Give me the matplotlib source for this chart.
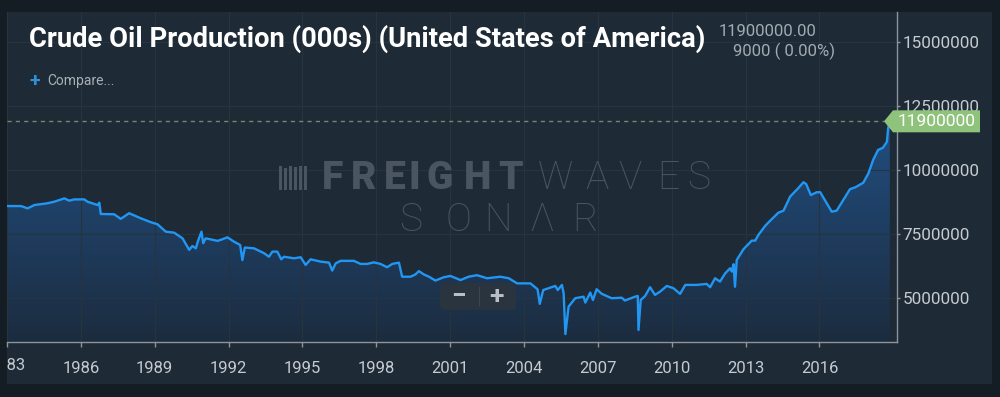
import matplotlib
matplotlib.use("Agg")
import matplotlib.pyplot as plt
import matplotlib.font_manager as fm
import matplotlib.transforms as mtransforms
from matplotlib.patches import Rectangle, FancyBboxPatch, Polygon
from matplotlib.colors import LinearSegmentedColormap
import numpy as np

# US crude oil production (decimal year, millions)
years = [1983.03, 1983.57, 1983.84, 1984.11, 1984.65, 1984.92, 1985.33, 1985.53,
         1985.73, 1986.14, 1986.27, 1986.68, 1986.75, 1986.81, 1987.35, 1987.62,
         1987.96, 1988.44, 1988.84, 1989.11, 1989.45, 1989.79, 1990.13, 1990.40,
         1990.53, 1990.67, 1990.76, 1990.90, 1990.97, 1991.07, 1991.55, 1991.74,
         1991.95, 1992.22, 1992.47, 1992.56, 1992.66, 1993.03, 1993.44, 1993.64,
         1993.78, 1993.98, 1994.14, 1994.25, 1994.66, 1994.93, 1995.13, 1995.33,
         1995.74, 1996.08, 1996.21, 1996.35, 1996.55, 1997.09, 1997.36, 1997.63,
         1997.90, 1998.17, 1998.44, 1998.65, 1998.92, 1999.05, 1999.39, 1999.59,
         1999.73, 1999.93, 2000.14, 2000.40, 2000.74, 2001.01, 2001.42, 2001.75,
         2002.09, 2002.50, 2003.04, 2003.38, 2003.72, 2004.26, 2004.55, 2004.64,
         2004.78, 2005.27, 2005.37, 2005.54, 2005.61, 2005.68, 2005.81, 2006.08,
         2006.42, 2006.49, 2006.69, 2006.80, 2006.95, 2007.16, 2007.56, 2007.97,
         2008.10, 2008.51, 2008.62, 2008.65, 2008.74, 2008.92, 2009.12, 2009.32,
         2009.53, 2009.80, 2010.07, 2010.34, 2010.55, 2011.02, 2011.42, 2011.56,
         2011.76, 2011.96, 2012.17, 2012.37, 2012.44, 2012.51, 2012.57, 2012.64,
         2012.91, 2013.25, 2013.39, 2013.52, 2013.79, 2014.00, 2014.33, 2014.54,
         2014.81, 2015.14, 2015.35, 2015.46, 2015.65, 2015.89, 2016.03, 2016.50,
         2016.70, 2017.24, 2017.45, 2017.78, 2017.99, 2018.18, 2018.38, 2018.58,
         2018.74, 2018.79, 2018.86]
prod_m = [8.59, 8.59, 8.50, 8.63, 8.70, 8.76, 8.89, 8.80,
          8.85, 8.85, 8.76, 8.63, 8.72, 8.28, 8.27, 8.09,
          8.31, 8.11, 7.96, 7.88, 7.59, 7.55, 7.33, 6.88,
          7.03, 6.94, 7.23, 7.59, 7.14, 7.33, 7.23, 7.29,
          7.37, 7.20, 7.07, 6.48, 6.97, 6.94, 6.75, 6.61,
          6.81, 6.81, 6.51, 6.61, 6.55, 6.59, 6.29, 6.51,
          6.42, 6.38, 6.07, 6.35, 6.45, 6.45, 6.33, 6.33,
          6.39, 6.33, 6.20, 6.33, 6.38, 5.83, 5.83, 5.92,
          6.05, 5.92, 5.83, 5.68, 5.81, 5.86, 5.70, 5.83,
          5.89, 5.77, 5.83, 5.77, 5.57, 5.57, 5.34, 4.77,
          5.31, 5.47, 5.31, 5.51, 5.18, 3.59, 4.66, 4.99,
          5.05, 4.82, 5.21, 4.92, 5.34, 5.16, 4.99, 5.01,
          4.90, 5.05, 5.08, 3.75, 4.92, 5.08, 5.42, 5.12,
          5.25, 5.47, 5.38, 5.16, 5.51, 5.51, 5.55, 5.42,
          5.77, 5.64, 5.96, 6.16, 6.03, 6.32, 5.44, 6.48,
          6.90, 7.24, 7.24, 7.46, 7.81, 8.02, 8.33, 8.41,
          8.96, 9.29, 9.52, 9.45, 9.02, 9.13, 9.13, 8.37,
          8.41, 9.25, 9.32, 9.50, 9.87, 10.39, 10.78, 10.87,
          11.10, 11.63, 11.90]
production = [v * 1e6 for v in prod_m]

last_value = 11900000
last_change = 9000
last_pct = 0.00

x_ticks = [1983, 1986, 1989, 1992, 1995, 1998, 2001, 2004, 2007, 2010, 2013, 2016]
y_ticks = [5000000, 7500000, 10000000, 12500000, 15000000]

title = "Crude Oil Production (000s) (United States of America)"

W, H = 1000, 397
OUTER = "#151d24"
PANEL = "#1e2a35"
GRID = "#27333e"
LINE = "#2196f3"
LABEL = "#c5cbd0"


def pick_font(name, fallback):
    try:
        fm.findfont(fm.FontProperties(family=name), fallback_to_default=False)
        return name
    except ValueError:
        return fallback


def fx(px):
    return px / W


def fy(py):
    return 1 - py / H


base_font = pick_font("Roboto", "DejaVu Sans")
title_font = pick_font("Liberation Sans Narrow", base_font)
plt.rcParams["font.family"] = [base_font, "DejaVu Sans"]

fig = plt.figure(figsize=(W / 100, H / 100), dpi=100, facecolor=OUTER)

# dark card behind everything
panel = Rectangle((fx(7), fy(384)), fx(992) - fx(7), fy(12) - fy(384),
                  transform=fig.transFigure, facecolor=PANEL, edgecolor="none", zorder=-1)
fig.patches.append(panel)

ax = fig.add_axes([fx(7), fy(342), fx(897) - fx(7), fy(12) - fy(342)])
ax.patch.set_alpha(0)
x0, x1 = 1983.0, 2019.15
y0, y1 = 3280000, 16170000

# gradient area under the line
fill = ax.fill_between(years, production, y0, facecolor="none", edgecolor="none")
cmap = LinearSegmentedColormap.from_list("area", ["#1c2c3f", "#214e80"])
grad = np.linspace(0, 1, 256).reshape(-1, 1)
im = ax.imshow(grad, extent=[x0, x1, y0, max(production)], origin="lower",
               aspect="auto", cmap=cmap, zorder=1)
im.set_clip_path(fill.get_paths()[0], transform=ax.transData)

ax.plot(years, production, color=LINE, lw=1.7, zorder=3)

ax.set_xlim(x0, x1)
ax.set_ylim(y0, y1)

ax.set_xticks(x_ticks)
ax.set_xticklabels([""] + [str(y) for y in x_ticks[1:]])
ax.set_yticks(y_ticks)
ax.set_yticklabels([str(v) for v in y_ticks])
ax.yaxis.tick_right()
ax.tick_params(axis="x", colors="#8c959d", labelcolor=LABEL, labelsize=12,
               length=3.5, width=1, pad=10)
ax.tick_params(axis="y", colors="#8c959d", labelcolor=LABEL, labelsize=12.3,
               length=2, width=1, pad=2)
ax.grid(True, color=GRID, lw=0.8, zorder=0)
for side in ["top", "left"]:
    ax.spines[side].set_visible(False)
for side in ["bottom", "right"]:
    ax.spines[side].set_color("#8c959d")
    ax.spines[side].set_linewidth(1)

# first year label is cut by the card edge
lab83 = ax.text(x_ticks[0], fy(365), str(x_ticks[0]), fontsize=12, color=LABEL,
                ha="center", va="center",
                transform=mtransforms.blended_transform_factory(ax.transData, fig.transFigure))
lab83.set_clip_box(mtransforms.TransformedBbox(
    mtransforms.Bbox([[fx(7), 0], [1, 1]]), fig.transFigure))
lab83.set_clip_on(True)

# last value guide
ax.axhline(last_value, xmin=0, xmax=(884 - 7) / 890, color="#6f8a6c", lw=1,
           dashes=(3, 3), zorder=2)

# watermark
wm = "#4a5560"
for ch, cx in zip("FREIGHT", [332, 364, 395, 414, 440, 478, 511]):
    fig.text(fx(cx), fy(178), ch, fontsize=28, weight=900, color=wm,
             ha="center", va="center")
for ch, cx in zip("WAVES", [555, 597, 630, 668, 699]):
    fig.text(fx(cx), fy(178), ch, fontsize=28, weight="light", color=wm,
             ha="center", va="center")
for ch, cx in zip("SONΛR", [411, 458, 498, 542, 585]):
    fig.text(fx(cx), fy(220), ch, fontsize=28, weight="light", color=wm,
             ha="center", va="center")
pix = mtransforms.IdentityTransform()
for bx, top in zip([279, 284, 289, 294, 299, 304], [166, 168, 166, 167, 166, 166]):
    fig.patches.append(Rectangle((bx, H - 190), 2.5, 190 - top, transform=pix,
                                 facecolor=wm, edgecolor="none"))

# zoom buttons
fig.patches.append(FancyBboxPatch((440, H - 310), 76, 27, transform=pix,
                                  boxstyle="round,pad=0,rounding_size=4",
                                  facecolor="#29343e", edgecolor="none", zorder=5))
fig.patches.append(Rectangle((478.5, H - 306), 1, 19, transform=pix,
                             facecolor="#3a4651", edgecolor="none", zorder=6))
fig.text(fx(458), fy(297), "−", fontsize=19, weight="bold", color="#b9bfc5",
         ha="center", va="center", zorder=7)
fig.text(fx(496), fy(297), "+", fontsize=19, weight="bold", color="#b9bfc5",
         ha="center", va="center", zorder=7)

# headline texts
t = fig.text(fx(29), fy(47), title, family=[title_font, "DejaVu Sans"], weight="bold",
             fontsize=19, color="white", ha="left", va="baseline")
fig.canvas.draw()
bb = t.get_window_extent()
t.set_fontsize(19 * 680 / bb.width)

fig.text(fx(719), fy(31), f"{last_value:.2f}", fontsize=12, color="#a3abb3",
         ha="left", va="center")
fig.text(fx(733), fy(51), f"{last_change} ( {last_pct:.2f}%)", fontsize=12,
         color="#a3abb3", ha="left", va="center")
fig.text(fx(29), fy(81), "+", fontsize=14, weight="bold", color="#2f8fd8",
         ha="left", va="center")
fig.text(fx(47), fy(81), "Compare...", fontsize=10, color="#a9b1b8",
         ha="left", va="center")

# green last value tag
ycen = H - ax.transData.transform((0, last_value))[1]
tag = [(884, ycen), (893, ycen - 11), (980, ycen - 11), (980, ycen + 11), (893, ycen + 11)]
fig.patches.append(Polygon([(px, H - py) for px, py in tag], closed=True, transform=pix,
                           facecolor="#8fc27b", edgecolor="none", zorder=8))
fig.text(fx(937), fy(ycen), f"{last_value}", fontsize=12.5, color="white",
         ha="center", va="center", zorder=9)

fig.savefig("out.png", dpi=100, facecolor=OUTER)
